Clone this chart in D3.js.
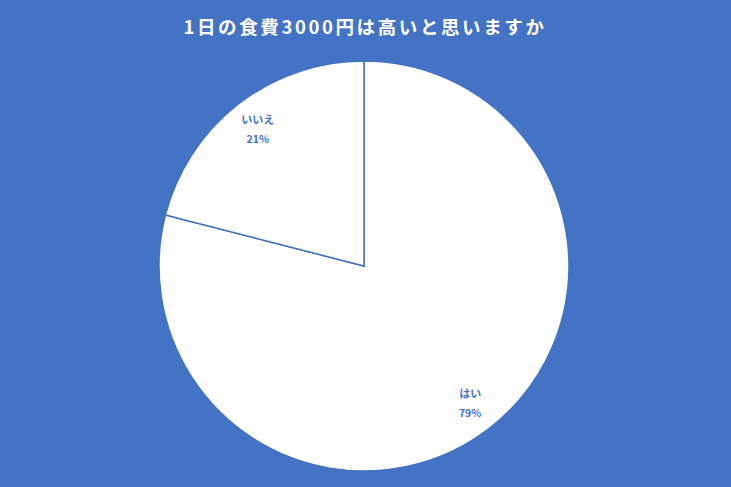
<!DOCTYPE html>
<html><head><meta charset="utf-8">
<script src="https://cdn.jsdelivr.net/npm/d3@7"></script>
<style>html,body{margin:0;padding:0;background:#4472C4;}svg{display:block;}</style>
</head><body>
<svg id="chart" width="731" height="487"></svg>
<script>
const categories = ["はい", "いいえ"];
const values = [79, 21];
const title = "1日の食費3000円は高いと思いますか";

const W = 731, H = 487, cx = 364, cy = 266, R = 205;
const blue = "#4472C4";
const svg = d3.select("#chart");
svg.append("rect").attr("width", W).attr("height", H).attr("fill", blue);

svg.append("text").attr("x", cx + 1).attr("y", 34).attr("text-anchor", "middle")
  .attr("fill", "#fff").attr("font-family", "'Noto Sans CJK JP','Noto Sans',sans-serif")
  .attr("font-weight", "bold").attr("font-size", 18.5).attr("letter-spacing", 2.6).text(title);

const data = categories.map((c, i) => ({ cat: c, val: values[i] }));
const pie = d3.pie().value(d => d.val).sort(null);
const arcs = pie(data);
const arc = d3.arc().innerRadius(0).outerRadius(R);
const labelArc = d3.arc().innerRadius(R * 0.845).outerRadius(R * 0.845);

const g = svg.append("g").attr("transform", `translate(${cx},${cy})`);
g.selectAll("path").data(arcs).join("path")
  .attr("d", arc).attr("fill", "#fff").attr("stroke", blue).attr("stroke-width", 1.5);

const lab = g.selectAll("g.lab").data(arcs).join("g").attr("class", "lab")
  .attr("transform", d => `translate(${labelArc.centroid(d)})`);
const total = d3.sum(values);
lab.append("text").attr("y", -5).attr("text-anchor", "middle")
  .attr("fill", blue).attr("font-family", "'Noto Sans CJK JP','Noto Sans',sans-serif")
  .attr("font-weight", "bold").attr("font-size", 11).text(d => d.data.cat);
lab.append("text").attr("y", 14).attr("text-anchor", "middle")
  .attr("fill", blue).attr("font-family", "'Noto Sans CJK JP','Noto Sans',sans-serif")
  .attr("font-weight", "bold").attr("font-size", 10.5).text(d => Math.round(d.data.val / total * 100) + "%");
</script>
</body></html>
